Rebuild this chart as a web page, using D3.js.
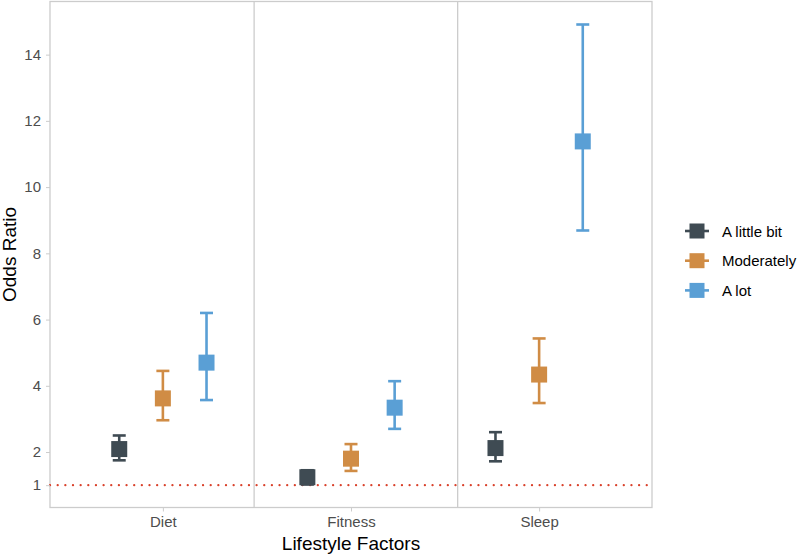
<!DOCTYPE html>
<html>
<head>
<meta charset="utf-8">
<script src="https://cdn.jsdelivr.net/npm/d3@7"></script>
<style>
  body { margin: 0; background: #fff; }
  text { font-family: "Liberation Sans", Arial, Helvetica, sans-serif; }
</style>
</head>
<body>
<svg id="chart" width="800" height="556"></svg>
<script>
// ---- Data ----
const categories = ["Diet", "Fitness", "Sleep"];
const groups = ["A little bit", "Moderately", "A lot"];
const groupColors = ["#3f4b53", "#d08c45", "#5a9fd5"];
// odds ratio estimates [group][category]
const estimates = [
  [2.09, 1.24, 2.12],
  [3.62, 1.80, 4.34],
  [4.70, 3.34, 11.38]
];
const lowerCI = [
  [1.75, 1.02, 1.72],
  [2.96, 1.43, 3.48],
  [3.57, 2.70, 8.69]
];
const upperCI = [
  [2.50, 1.45, 2.60],
  [4.45, 2.24, 5.43],
  [6.20, 4.14, 14.91]
];
const yTicks = [1, 2, 4, 6, 8, 10, 12, 14];
const referenceLine = 1;
const separators = [1.485, 2.567]; // vertical divider positions (category units)

// ---- Layout ----
const svg = d3.select("#chart");
const panel = { left: 50, right: 652, top: 1.5, bottom: 507.5 };

const x = d3.scaleLinear().domain([0.4, 3.6]).range([panel.left, panel.right]);
const dataMin = d3.min(lowerCI.flat()), dataMax = d3.max(upperCI.flat());
const span = dataMax - dataMin;
const y = d3.scaleLinear().domain([dataMin - 0.05 * span, dataMax + 0.05 * span])
  .range([panel.bottom, panel.top]);

const dodge = 0.232;
const gx = (ci, gi) => x(ci + 1 + (gi - 1) * dodge);

// panel border
svg.append("rect")
  .attr("x", panel.left).attr("y", panel.top)
  .attr("width", panel.right - panel.left).attr("height", panel.bottom - panel.top)
  .attr("fill", "none").attr("stroke", "#cccccc").attr("stroke-width", 1.3);

// reference line
svg.append("line")
  .attr("x1", panel.left).attr("x2", panel.right)
  .attr("y1", y(referenceLine)).attr("y2", y(referenceLine))
  .attr("stroke", "#d9412b").attr("stroke-width", 2.2)
  .attr("stroke-linecap", "round")
  .attr("stroke-dasharray", "0.1 7.55");

// separators
svg.selectAll("line.sep").data(separators).join("line")
  .attr("class", "sep")
  .attr("x1", d => x(d)).attr("x2", d => x(d))
  .attr("y1", panel.top).attr("y2", panel.bottom)
  .attr("stroke", "#cccccc").attr("stroke-width", 1.3);

// y axis
const yAxis = d3.axisLeft(y).tickValues(yTicks).tickSize(4).tickPadding(5).tickFormat(d3.format("d"));
const ya = svg.append("g").attr("transform", `translate(${panel.left},0)`).call(yAxis);
ya.select(".domain").remove();
ya.selectAll(".tick line").attr("stroke", "#cccccc").attr("stroke-width", 1);
ya.selectAll(".tick text").attr("fill", "#4d4d4d").style("font-size", "15px")
  .style("font-family", "'Liberation Sans', Arial, sans-serif");

// x axis
const xAxis = d3.axisBottom(x).tickValues(categories.map((c, i) => i + 1))
  .tickFormat((d) => categories[d - 1]).tickSize(4).tickPadding(5);
const xa = svg.append("g").attr("transform", `translate(0,${panel.bottom})`).call(xAxis);
xa.select(".domain").remove();
xa.selectAll(".tick line").attr("stroke", "#cccccc").attr("stroke-width", 1);
xa.selectAll(".tick text").attr("fill", "#4d4d4d").style("font-size", "15px")
  .style("font-family", "'Liberation Sans', Arial, sans-serif");

// axis titles
svg.append("text")
  .attr("x", (panel.left + panel.right) / 2).attr("y", 550)
  .attr("text-anchor", "middle").attr("fill", "#000").style("font-size", "19px")
  .text("Lifestyle Factors");
svg.append("text")
  .attr("transform", `translate(16,${(panel.top + panel.bottom) / 2}) rotate(-90)`)
  .attr("text-anchor", "middle").attr("fill", "#000").style("font-size", "19px")
  .text("Odds Ratio");

// error bars and points
const capHalf = 6.5, sq = 16;
groups.forEach((g, gi) => {
  const gg = svg.append("g");
  categories.forEach((c, ci) => {
    const cx = gx(ci, gi);
    const col = groupColors[gi];
    gg.append("line")
      .attr("x1", cx).attr("x2", cx)
      .attr("y1", y(lowerCI[gi][ci])).attr("y2", y(upperCI[gi][ci]))
      .attr("stroke", col).attr("stroke-width", 2.6);
    [lowerCI[gi][ci], upperCI[gi][ci]].forEach(v => {
      gg.append("line")
        .attr("x1", cx - capHalf).attr("x2", cx + capHalf)
        .attr("y1", y(v)).attr("y2", y(v))
        .attr("stroke", col).attr("stroke-width", 2.6);
    });
    gg.append("rect")
      .attr("x", cx - sq / 2).attr("y", y(estimates[gi][ci]) - sq / 2)
      .attr("width", sq).attr("height", sq)
      .attr("fill", col);
  });
});

// legend
const leg = svg.append("g").attr("transform", "translate(685,231)");
groups.forEach((g, gi) => {
  const row = leg.append("g").attr("transform", `translate(0,${gi * 29.7})`);
  row.append("line").attr("x1", 0).attr("x2", 24).attr("y1", 0).attr("y2", 0)
    .attr("stroke", groupColors[gi]).attr("stroke-width", 2.6);
  row.append("rect").attr("x", 4.5).attr("y", -7.5).attr("width", 15).attr("height", 15)
    .attr("fill", groupColors[gi]);
  row.append("text").attr("x", 37).attr("y", 5.5)
    .attr("fill", "#000").style("font-size", "15px").text(g);
});
</script>
</body>
</html>
